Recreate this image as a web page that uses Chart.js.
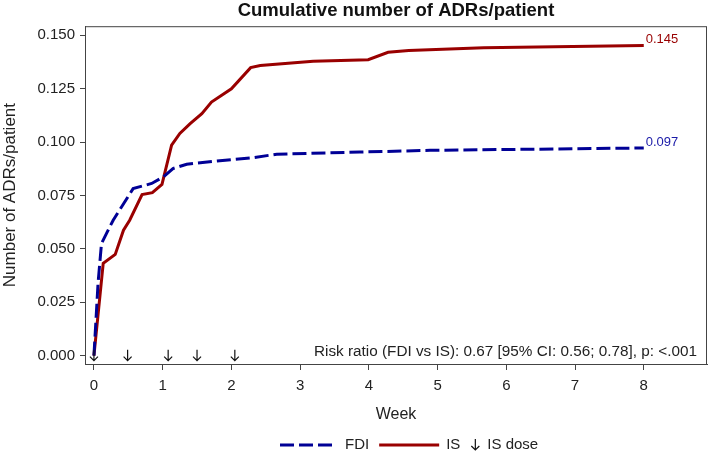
<!DOCTYPE html>
<html>
<head>
<meta charset="utf-8">
<script src="https://cdn.jsdelivr.net/npm/chart.js@4.4.1/dist/chart.umd.min.js"></script>
<style>
  body { margin: 0; background: #fff; }
</style>
</head>
<body>
<canvas id="chart" width="709" height="451"></canvas>
<script>
// data
const isWeek = [0, 0.135, 0.31, 0.43, 0.52, 0.70, 0.85, 0.99, 1.13, 1.25, 1.40, 1.57, 1.71, 2.0, 2.28, 2.42, 3.19, 3.99, 4.28, 4.58, 5.67, 8.0];
const isValue = [0, 0.0432, 0.0474, 0.0587, 0.0634, 0.0754, 0.0763, 0.0802, 0.0985, 0.104, 0.1086, 0.1133, 0.1187, 0.1249, 0.1348, 0.1358, 0.1378, 0.1385, 0.142, 0.1428, 0.1441, 0.1452];
const fdiWeek = [0, 0.06, 0.11, 0.23, 0.28, 0.57, 0.84, 1.01, 1.15, 1.35, 1.79, 2.32, 2.66, 3.87, 4.89, 8.0];
const fdiValue = [0, 0.034, 0.0525, 0.0603, 0.0634, 0.0782, 0.0806, 0.0837, 0.0876, 0.0896, 0.0911, 0.0927, 0.0943, 0.0953, 0.0961, 0.0972];
const isDoseWeek = [0, 0.49, 1.08, 1.5, 2.05];
const xTicks = [0, 1, 2, 3, 4, 5, 6, 7, 8];
const yTicks = [0, 0.025, 0.05, 0.075, 0.1, 0.125, 0.15];
const endLabels = ["0.097", "0.145"];
const riskText = "Risk ratio (FDI vs IS): 0.67 [95% CI: 0.56; 0.78], p: <.001";

const RED = "#990000";
const BLUE = "#000096";
const FONT = "'Liberation Sans', Arial, sans-serif";

const toPoints = (xs, ys) => xs.map((x, i) => ({ x: x, y: ys[i] }));

function drawArrow(ctx, x, y) {
  ctx.beginPath();
  ctx.moveTo(x, y - 6);
  ctx.lineTo(x, y + 5);
  ctx.moveTo(x - 4, y + 1);
  ctx.lineTo(x, y + 5);
  ctx.lineTo(x + 4, y + 1);
  ctx.stroke();
}

// frame, arrows, end labels, risk text and legend
const extras = {
  id: "extras",
  afterDatasetsDraw(chart) {
    const ctx = chart.ctx;
    const a = chart.chartArea;
    const xs = chart.scales.x;
    const ys = chart.scales.y;
    ctx.save();

    ctx.strokeStyle = "#444";
    ctx.lineWidth = 1;
    ctx.strokeRect(a.left + 0.5, a.top + 0.5, a.right - a.left - 1, a.bottom - a.top);

    // IS dose arrows
    ctx.strokeStyle = "#111";
    ctx.lineWidth = 1.2;
    isDoseWeek.forEach(w => drawArrow(ctx, xs.getPixelForValue(w), ys.getPixelForValue(0)));

    // end value labels
    ctx.font = "13px " + FONT;
    ctx.textBaseline = "middle";
    ctx.textAlign = "left";
    chart.data.datasets.forEach((ds, i) => {
      const last = ds.data[ds.data.length - 1];
      ctx.fillStyle = ds.labelColor;
      ctx.fillText(endLabels[i], xs.getPixelForValue(last.x) + 2, ys.getPixelForValue(last.y) - 6);
    });

    // risk ratio
    ctx.font = "15.3px " + FONT;
    ctx.fillStyle = "#222";
    ctx.textAlign = "right";
    ctx.fillText(riskText, a.right - 10, ys.getPixelForValue(0) - 4);

    // legend
    const ly = 445;
    let lx = 280;
    ctx.textAlign = "left";
    ctx.font = "15px " + FONT;
    ctx.lineWidth = 3;
    ctx.strokeStyle = BLUE;
    ctx.setLineDash([14, 5]);
    ctx.beginPath(); ctx.moveTo(lx, ly); ctx.lineTo(lx + 57, ly); ctx.stroke();
    ctx.setLineDash([]);
    lx += 65;
    ctx.fillStyle = "#222";
    ctx.fillText("FDI", lx, ly);
    lx += ctx.measureText("FDI").width + 10;
    ctx.strokeStyle = RED;
    ctx.beginPath(); ctx.moveTo(lx, ly); ctx.lineTo(lx + 60, ly); ctx.stroke();
    lx += 67;
    ctx.fillText("IS", lx, ly);
    lx += ctx.measureText("IS").width + 15;
    ctx.strokeStyle = "#111";
    ctx.lineWidth = 1.2;
    drawArrow(ctx, lx, ly);
    lx += 12;
    ctx.fillText("IS dose", lx, ly);

    ctx.restore();
  }
};

new Chart(document.getElementById("chart"), {
  type: "line",
  data: {
    datasets: [
      {
        label: "FDI",
        data: toPoints(fdiWeek, fdiValue),
        borderColor: BLUE,
        borderDash: [14, 5],
        labelColor: "#1a1aa8",
        borderWidth: 3
      },
      {
        label: "IS",
        data: toPoints(isWeek, isValue),
        borderColor: RED,
        labelColor: RED,
        borderWidth: 3
      }
    ]
  },
  options: {
    responsive: false,
    animation: false,
    parsing: false,
    elements: { point: { radius: 0 }, line: { tension: 0 } },
    layout: { padding: { left: 0, right: 2, top: 0, bottom: 25 } },
    plugins: {
      legend: { display: false },
      tooltip: { enabled: false },
      title: {
        display: true,
        fullSize: false,
        text: "Cumulative number of ADRs/patient",
        color: "#111",
        font: { family: FONT, size: 18.5, weight: "bold" },
        padding: { top: 0, bottom: 4 }
      }
    },
    scales: {
      x: {
        type: "linear",
        min: -0.13,
        max: 8.92,
        afterBuildTicks: s => { s.ticks = xTicks.map(v => ({ value: v })); },
        afterFit: s => { s.height = 62; },
        grid: { drawOnChartArea: false, tickLength: 6, color: "#444" },
        border: { color: "#444" },
        ticks: { color: "#222", padding: 7, font: { family: FONT, size: 15 }, callback: v => String(v) },
        title: { display: true, text: "Week", color: "#222", font: { family: FONT, size: 16 }, padding: { top: 4, bottom: 2 } }
      },
      y: {
        min: -0.0039,
        max: 0.1542,
        afterBuildTicks: s => { s.ticks = yTicks.map(v => ({ value: v })); },
        afterFit: s => { s.width = 85; },
        grid: { drawOnChartArea: false, tickLength: 5, color: "#444" },
        border: { color: "#444" },
        ticks: { color: "#222", padding: 5, font: { family: FONT, size: 15 }, callback: v => v.toFixed(3) },
        title: { display: true, text: "Number of ADRs/patient", color: "#222", font: { family: FONT, size: 17 }, padding: { top: 0, bottom: 0 } }
      }
    }
  },
  plugins: [extras]
});
</script>
</body>
</html>
